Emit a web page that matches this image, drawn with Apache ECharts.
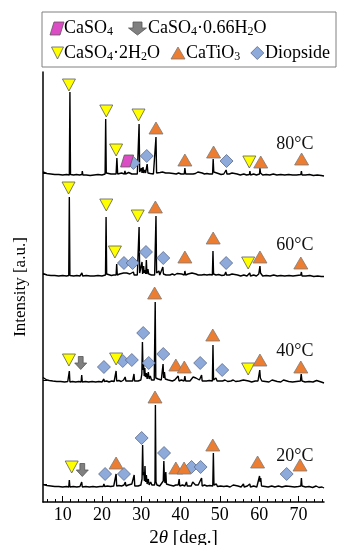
<!DOCTYPE html>
<html>
<head>
<meta charset="utf-8">
<script src="https://cdn.jsdelivr.net/npm/echarts@6.0.0/dist/echarts.min.js"></script>
<style>
  html, body { margin: 0; padding: 0; background: #fff; }
  #chart { width: 337px; height: 545px; }
</style>
</head>
<body>
<div id="chart"></div>
<script>
// XRD patterns, [2theta, intensity above own baseline]
const p80 = [[5,3],[5.5,2],[6,1.5],[7,1],[8,0.5],[9,0.5],[10,0],[11,0.5],[11.7,0],[11.85,83],[12,0.5],[12.8,0],[13.5,0.5],[14.3,0],[14.9,0.5],[15.0,4],[15.15,0],[16,0],[17,-0.5],[18,0],[19,0.5],[20,0],[20.8,1],[20.95,56],[21.1,2],[21.4,3],[21.6,1],[22.3,1],[22.8,0.5],[23.6,1],[23.8,17],[24.0,1],[24.5,1.5],[25.0,2],[25.3,1],[25.7,1],[25.85,4],[26.0,1],[26.5,1],[26.8,2.5],[27.1,1],[27.6,1],[28.0,3],[28.2,1],[28.7,2],[29.0,1],[29.3,2],[29.45,51],[29.6,3],[29.9,2],[30.05,7],[30.2,2],[30.45,8],[30.6,2],[30.9,5],[31.1,2],[31.5,11],[31.7,2],[32.1,4],[32.3,1.5],[32.8,3],[33.1,1],[33.6,2],[33.75,38],[33.9,2],[34.2,4],[34.4,1.5],[34.8,2.5],[35.1,1],[35.4,3],[35.7,1.5],[36.2,2],[36.6,1],[37.1,2],[37.6,1],[38.1,1.5],[38.6,3],[38.9,1],[39.5,2],[40.1,1],[40.6,2],[40.95,1],[41.1,7],[41.3,1],[41.8,2],[42.3,1],[42.8,3],[43.2,1],[43.8,1.5],[44.4,3],[44.8,1],[45.5,2],[46.1,1],[46.7,1.5],[47.3,1],[48.15,1],[48.3,16],[48.45,3],[48.65,5],[48.9,1],[49.6,1.5],[50.3,0.5],[51.0,1],[51.45,0.5],[51.6,5],[51.8,1],[52.4,1],[53.1,2],[53.6,0],[54.4,1],[55.2,0],[56.1,1],[56.8,0],[57.5,0.5],[57.65,4],[57.8,0],[58.6,1],[59.3,0],[59.8,2],[60.1,1],[60.2,7],[60.35,2],[60.6,3],[60.9,0],[61.8,0.5],[62.7,0],[63.6,1],[64.5,0],[65.5,0.5],[66.5,0],[67.5,0.5],[68.5,0],[69.5,0],[70.6,0.5],[70.75,4],[70.9,0],[71.8,0],[72.8,0.5],[73.8,-0.5],[74.8,0],[75.8,-0.5],[76.5,-1]];
const p60 = [[5,2.5],[5.5,1.5],[6,1],[7,0.5],[8,0.5],[9,0],[10,0.5],[11,0],[11.55,0.5],[11.7,79],[11.85,0.5],[12.8,0],[13.6,0.5],[14.4,0],[14.9,3],[15.1,0],[16,0.5],[17,0],[18,0],[19,0.5],[20,0],[20.9,1],[21.05,59],[21.2,2],[21.5,3],[21.7,1],[22.4,0.5],[23.0,1],[23.6,1],[23.75,12],[23.9,1],[24.5,2],[25.0,1],[25.5,3],[25.8,1],[26.3,3],[26.6,1],[27.1,2],[27.5,1],[28.0,4],[28.2,1],[28.6,2],[29.0,1],[29.3,2],[29.45,49],[29.6,3],[29.9,2],[30.2,14],[30.35,2],[30.6,10],[30.75,3],[31.0,6],[31.15,2],[31.3,16],[31.45,2],[31.7,7],[31.9,2],[32.3,4],[32.6,1],[33.0,2],[33.4,1],[33.6,3],[33.75,60],[33.9,3],[34.2,2],[34.5,5],[34.7,1],[35.2,2],[35.5,9],[35.65,2],[36.0,4],[36.3,1],[36.8,2],[37.3,1],[37.9,2],[38.5,1],[39.1,2.5],[39.6,1],[40.3,2],[40.95,1],[41.1,5],[41.3,1],[41.9,2],[42.4,1],[42.9,3],[43.3,1],[43.9,2],[44.5,1],[45.0,3],[45.4,1],[46.0,1.5],[46.7,1],[47.4,1.5],[48.1,1],[48.25,25],[48.4,2],[48.7,4],[49.0,1],[49.7,1.5],[50.5,0.5],[51.2,1],[51.5,4],[51.7,1],[52.4,1],[53.1,2],[53.6,0],[54.5,1],[55.3,0],[56.1,1],[56.9,0],[57.6,3],[57.8,0],[58.6,1],[59.3,0],[59.9,2],[60.2,10],[60.35,3],[60.6,4],[60.9,0],[61.8,0.5],[62.8,0],[63.7,1],[64.6,0],[65.5,0.5],[66.5,0],[67.6,0.5],[68.6,0],[69.6,0.5],[70.6,1],[70.75,4],[70.9,0],[71.9,0],[72.9,0.5],[73.9,-0.5],[74.9,0],[75.8,-0.5],[76.5,-0.5]];
const p40 = [[5,4.5],[5.4,3],[6,2],[6.6,1.5],[7.5,1],[8.5,0.5],[9.5,0.5],[10.5,0],[11.3,0.5],[11.55,0],[11.7,11],[11.85,0],[12.5,0.5],[13.3,0],[14.1,0.5],[14.7,0],[14.85,7],[15.0,0],[15.8,0.5],[16.6,0],[17.5,0.5],[18.4,0],[19.2,0.5],[20.0,0],[20.4,1],[20.5,3],[20.6,0.5],[21.2,1],[21.8,0],[22.5,1],[23.1,0.5],[23.45,1],[23.6,11],[23.75,1],[24.3,1.5],[24.9,0.5],[25.5,2],[25.9,5],[26.1,1],[26.6,2],[27.1,1],[27.5,3],[27.8,1],[28.0,2],[28.15,8],[28.3,1],[28.8,2],[29.2,1],[29.6,3],[29.9,2],[30.15,8],[30.3,40],[30.45,12],[30.6,18],[30.75,6],[30.9,14],[31.05,5],[31.3,9],[31.5,3],[31.8,10],[32.0,3],[32.3,6],[32.6,2],[33.0,3],[33.3,2],[33.45,4],[33.55,80],[33.7,4],[34.0,2],[34.3,3],[34.6,1],[35.1,2],[35.4,3],[35.55,18],[35.7,4],[35.9,10],[36.1,3],[36.5,4],[36.9,2],[37.4,3],[37.9,1],[38.5,2],[39.0,1],[39.4,6],[39.6,1],[40.2,2],[40.9,1],[41.1,6],[41.3,1],[41.8,2],[42.4,1],[42.9,3],[43.2,5],[43.5,3],[43.9,4],[44.3,2],[44.8,2],[45.35,7],[45.5,1],[46.0,2],[46.6,1],[47.3,1.5],[48.1,1],[48.25,37],[48.4,2],[48.6,1],[49.0,4],[49.3,1],[50.0,1],[50.7,1],[51.3,2],[52.0,0.5],[52.8,1],[53.4,2],[54.0,0.5],[55.0,1],[56.0,2],[56.5,0],[57.3,1],[58.1,0],[59.0,1],[59.7,1],[60.0,3],[60.15,12],[60.3,4],[60.5,6],[60.7,1],[61.6,0.5],[62.5,0],[63.3,2],[63.6,0],[64.6,0.5],[65.5,0],[66.2,2],[66.5,0],[67.5,0.5],[68.5,0],[69.5,0.5],[70.5,1],[70.7,8],[70.9,1],[71.7,0],[72.7,0.5],[73.7,0],[74.6,1.5],[75.0,0],[75.8,0],[76.5,-1]];
const p20 = [[5,2.5],[5.5,2],[6,1.5],[7,1],[8,0.5],[9,0.5],[10,0],[11,0.5],[11.55,0],[11.7,7],[11.85,0],[12.7,0.5],[13.6,0],[14.4,0.5],[14.7,0],[14.85,5],[15.0,0],[15.9,0.5],[16.8,0],[17.7,0.5],[18.6,0],[19.5,0.5],[20.3,0.5],[20.5,3],[20.7,0.5],[21.4,1],[22.2,0.5],[23.0,1],[23.45,1],[23.6,13],[23.75,1],[24.3,1.5],[25.0,1],[25.6,2],[25.95,5],[26.1,1],[26.7,2],[27.2,1],[27.6,3],[27.9,1],[28.05,3],[28.2,12],[28.35,1],[28.8,2],[29.2,1],[29.6,3],[29.9,2],[30.2,8],[30.35,42],[30.5,12],[30.65,15],[30.8,6],[30.95,21],[31.1,5],[31.3,12],[31.5,3],[31.8,8],[32.0,2],[32.4,5],[32.7,2],[33.1,3],[33.4,2],[33.5,6],[33.6,82],[33.75,5],[34.0,2],[34.4,3],[34.7,1],[35.2,3],[35.6,6],[35.75,26],[35.9,8],[36.05,4],[36.25,15],[36.4,3],[36.8,4],[37.2,2],[37.7,3],[38.2,1],[38.8,2],[39.4,2],[39.65,8],[39.8,1],[40.5,2],[41.1,1],[41.5,5],[41.7,1],[42.2,2],[42.7,1],[43.1,5],[43.3,7],[43.45,4],[43.6,6],[43.8,2],[44.5,2],[45.0,1],[45.35,9],[45.5,1],[46.1,2],[46.7,1],[47.4,1.5],[48.2,1],[48.35,34],[48.5,2],[48.7,1],[49.1,3],[49.4,0.5],[50.2,1],[51.0,0.5],[51.8,1],[52.6,0],[53.4,2],[53.6,3],[53.8,0],[54.6,1],[55.4,0],[56.0,3],[56.2,0],[57.0,1],[57.6,3],[57.8,0],[58.6,1],[59.4,0],[59.9,2],[60.1,11],[60.25,5],[60.4,9],[60.6,1],[61.5,0.5],[62.3,0],[63.2,1],[64.0,0],[64.9,1],[65.8,0],[66.8,1],[67.0,3],[67.2,0],[68.0,0.5],[69.0,0],[70.0,0.5],[70.6,1],[70.75,9],[70.9,1],[71.8,0],[72.7,0.5],[73.6,-0.5],[74.5,1],[75.2,-0.5],[76.0,0],[76.5,-1]];

// phase markers [phase, 2theta, height above baseline]
// A = CaSO4, B = CaSO4·0.66H2O, G = CaSO4·2H2O, P = CaTiO3, D = Diopside
const marks80 = [['G',11.6,90],['G',21.1,64],['G',23.6,25],['G',29.3,60],['G',57.5,13],['P',33.75,47],['P',41.1,15],['P',48.4,23],['P',60.4,13],['P',70.8,16],['A',26.4,14],['D',28.0,12],['D',31.4,19],['D',51.7,14]];
const marks60 = [['G',11.5,88],['G',21.1,71],['G',23.3,24],['G',29.1,60],['G',57.2,13],['P',33.6,69],['P',41.1,19],['P',48.3,38],['P',60.2,19],['P',70.6,13],['D',25.6,13],['D',27.8,13],['D',31.2,24],['D',35.6,18],['D',51.6,13]];
const marks40 = [['P',33.4,89],['P',48.2,47],['P',38.8,17],['P',40.95,15],['P',60.2,22],['P',70.6,15],['G',11.6,22],['G',23.6,23],['G',57.2,13],['B',14.6,19],['D',20.5,15],['D',25.3,21],['D',27.6,22],['D',30.5,49],['D',31.9,19],['D',35.6,28],['D',45.0,19],['D',50.6,12]];
const marks20 = [['P',33.5,90],['P',23.6,24],['P',48.2,42],['P',38.8,19],['P',40.9,19],['P',59.6,25],['P',70.4,22],['G',12.3,20],['B',15.0,17],['D',20.8,13],['D',25.6,13],['D',30.1,49],['D',35.8,34],['D',42.8,20],['D',45.1,20],['D',67.0,13]];

const temps = ['20°C', '40°C', '60°C', '80°C'];
const xLabels = [10, 20, 30, 40, 50, 60, 70];
const xMinorTicks = [6, 8, 10, 12, 14, 16, 18, 20, 22, 24, 26, 28, 30, 32, 34, 36, 38, 40, 42, 44, 46, 48, 50, 52, 54, 56, 58, 60, 62, 64, 66, 68, 70, 72, 74, 76];

// vertical stacking of the patterns (layout)
const baseOffsets = [15, 120, 226, 327];
const yTicks = [18, 122, 228, 329];
const tempLabelX = 69.1;
const tempLabelLift = 31;

const FONT = 'Liberation Serif';

const chart = echarts.init(document.getElementById('chart'), null, { renderer: 'canvas' });

const patterns = [p20, p40, p60, p80];
const marks = [marks20, marks40, marks60, marks80];

// marker styles for each phase
const phaseStyle = {
    A: { symbol: 'path://M4,0L14,0L10,12L0,12Z', size: [13, 12], color: '#dc4cc4', border: '#5a5a5a' },
    B: { symbol: 'path://M3,0L7,0L7,5L10,5L5,10L0,5L3,5Z', size: [12, 13], color: '#808080', border: '#555555' },
    G: { symbol: 'path://M0,0L14,0L7,12Z', size: [13, 12], color: '#ffff00', border: '#5a5a5a' },
    P: { symbol: 'triangle', size: [14, 12], color: '#ed7d31', border: '#7a7a7a' },
    D: { symbol: 'diamond', size: [13, 13], color: '#8eaadb', border: '#5a6a8a' }
};

const series = [];

// diffraction lines
patterns.forEach((p, i) => {
    series.push({
        type: 'line',
        name: temps[i],
        data: p.map(d => [d[0], d[1] + baseOffsets[i]]),
        showSymbol: false,
        symbol: 'none',
        lineStyle: { color: '#000', width: 1.4 },
        z: 2,
        silent: true
    });
});

// phase markers
['D', 'G', 'P', 'B', 'A'].forEach(ph => {
    const data = [];
    marks.forEach((m, i) => {
        m.filter(d => d[0] === ph).forEach(d => data.push([d[1], d[2] + baseOffsets[i]]));
    });
    const st = phaseStyle[ph];
    series.push({
        type: 'scatter',
        data: data,
        symbol: st.symbol,
        symbolSize: st.size,
        itemStyle: { color: st.color, borderColor: st.border, borderWidth: 0.8, opacity: 1 },
        z: 5,
        silent: true
    });
});

// legend box (drawn as graphic, text with subscripts)
const rich = {
    n: { fontFamily: FONT, fontSize: 18, color: '#000', lineHeight: 20 },
    s: { fontFamily: FONT, fontSize: 12, color: '#000', lineHeight: 20, verticalAlign: 'bottom' }
};
function legendText(x, y, text) {
    return {
        type: 'text', x: x, y: y, z: 11,
        style: { text: text, rich: rich, verticalAlign: 'middle', align: 'left' }
    };
}

const legendGraphics = [
    { type: 'rect', z: 10, shape: { x: 42, y: 12, width: 294, height: 55 }, style: { fill: '#fff', stroke: '#808080', lineWidth: 1 } },
    // legend symbols
    { type: 'polygon', z: 11, shape: { points: [[54, 22], [64, 22], [60, 35], [50, 35]] }, style: { fill: '#dc4cc4', stroke: '#5a5a5a', lineWidth: 0.8 } },
    { type: 'polygon', z: 11, shape: { points: [[133, 22], [142, 22], [142, 28], [146.5, 28], [137.5, 35], [128.5, 28], [133, 28]] }, style: { fill: '#808080', stroke: '#555555', lineWidth: 0.8 } },
    { type: 'polygon', z: 11, shape: { points: [[51.5, 47], [63.5, 47], [57.5, 59]] }, style: { fill: '#ffff00', stroke: '#5a5a5a', lineWidth: 0.8 } },
    { type: 'polygon', z: 11, shape: { points: [[171, 59], [185, 59], [178, 47]] }, style: { fill: '#ed7d31', stroke: '#7a7a7a', lineWidth: 0.8 } },
    { type: 'polygon', z: 11, shape: { points: [[257.3, 46.5], [263.8, 53], [257.3, 59.5], [250.8, 53]] }, style: { fill: '#8eaadb', stroke: '#5a6a8a', lineWidth: 0.8 } },
    // legend texts
    legendText(64, 28, '{n|CaSO}{s|4}'),
    legendText(148, 28, '{n|CaSO}{s|4}{n|·0.66H}{s|2}{n|O}'),
    legendText(64, 53, '{n|CaSO}{s|4}{n|·2H}{s|2}{n|O}'),
    legendText(186, 53, '{n|CaTiO}{s|3}'),
    legendText(265, 53, '{n|Diopside}')
];

const option = {
    animation: false,
    backgroundColor: '#fff',
    grid: { left: 43, right: 13, top: 72, bottom: 43, outerBoundsMode: 'none' },
    xAxis: [
        {
            type: 'value', min: 5, max: 76.5,
            axisLine: { onZero: false, lineStyle: { color: '#000', width: 1.5 } },
            axisTick: { show: true, inside: true, length: 3, customValues: xMinorTicks, lineStyle: { color: '#000', width: 1 } },
            axisLabel: { customValues: xLabels, color: '#000', fontFamily: FONT, fontSize: 18, margin: 4 },
            splitLine: { show: false },
            name: '2{i|θ} [deg.]',
            nameLocation: 'middle',
            nameGap: 26,
            nameTextStyle: {
                color: '#000', fontFamily: FONT, fontSize: 19,
                rich: { i: { fontFamily: FONT, fontStyle: 'italic', fontSize: 19, color: '#000' } }
            }
        },
        {
            type: 'value', min: 5, max: 76.5, position: 'bottom',
            axisLine: { show: false, onZero: false },
            axisTick: { show: true, inside: true, length: 6, customValues: xLabels, lineStyle: { color: '#000', width: 1 } },
            axisLabel: { show: false },
            splitLine: { show: false }
        }
    ],
    yAxis: {
        type: 'value', min: 0, max: 430,
        axisLine: { show: true, onZero: false, lineStyle: { color: '#000', width: 1.5 } },
        axisTick: { show: true, inside: true, length: 4, customValues: yTicks, lineStyle: { color: '#000', width: 1 } },
        axisLabel: { show: false },
        splitLine: { show: false },
        name: 'Intensity [a.u.]',
        nameLocation: 'middle',
        nameGap: 14,
        nameTextStyle: { color: '#000', fontFamily: FONT, fontSize: 17 }
    },
    graphic: legendGraphics,
    series: series
};

chart.setOption(option);

// temperature labels, placed through the chart's own scales
const tempTexts = temps.map((t, i) => {
    const pt = chart.convertToPixel({ gridIndex: 0 }, [tempLabelX, baseOffsets[i] + tempLabelLift]);
    return {
        type: 'text', x: pt[0], y: pt[1], z: 12,
        style: { text: t, fill: '#111', fontFamily: FONT, fontSize: 18, align: 'center', verticalAlign: 'middle' }
    };
});
chart.setOption({ graphic: legendGraphics.concat(tempTexts) });
</script>
</body>
</html>
